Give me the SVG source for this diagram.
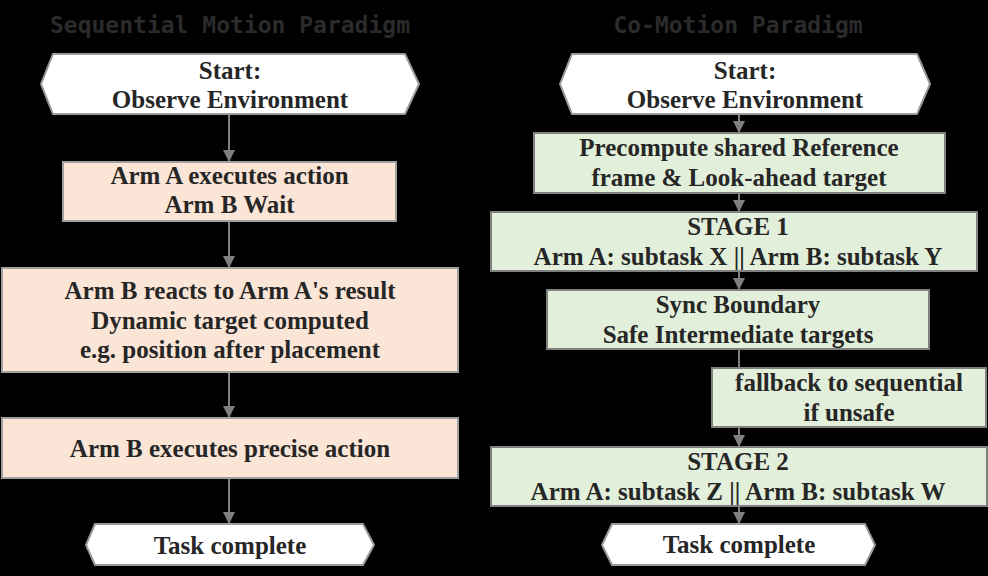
<svg xmlns="http://www.w3.org/2000/svg" width="988" height="576" viewBox="0 0 988 576">
<style>
.title{font-family:"DejaVu Sans Mono","Liberation Mono",monospace;font-weight:bold;font-size:23px;fill:#2b2b2b;text-anchor:middle}
.t{font-family:"Liberation Serif","Times New Roman",serif;font-weight:bold;font-size:25px;fill:#262626;text-anchor:middle}
.hex{fill:#ffffff;stroke:#9a9a9a;stroke-width:2}
.peach{fill:#fbe5d6;stroke:#a0a0a0;stroke-width:2}
.green{fill:#e2efda;stroke:#808080;stroke-width:2}
.conn{stroke:#7f7f7f;stroke-width:2;fill:none}
</style>
<defs>
<marker id="arr" markerWidth="12" markerHeight="12" refX="12" refY="6" orient="auto" markerUnits="userSpaceOnUse">
<path d="M0,0 L12,6 L0,12 z" fill="#7f7f7f"/>
</marker>
</defs>
<rect x="0" y="0" width="988" height="576" fill="#000000"/>
<text class="title" x="230" y="33">Sequential Motion Paradigm</text>
<text class="title" x="738" y="33">Co-Motion Paradigm</text>

<g id="connectors">
<line class="conn" x1="229" y1="115" x2="229" y2="162" marker-end="url(#arr)"/>
<line class="conn" x1="229" y1="222" x2="229" y2="268" marker-end="url(#arr)"/>
<line class="conn" x1="229" y1="373" x2="229" y2="418" marker-end="url(#arr)"/>
<line class="conn" x1="229" y1="479" x2="229" y2="524" marker-end="url(#arr)"/>
<line class="conn" x1="739" y1="115" x2="739" y2="133" marker-end="url(#arr)"/>
<line class="conn" x1="739" y1="194" x2="739" y2="212" marker-end="url(#arr)"/>
<line class="conn" x1="739" y1="272" x2="739" y2="290" marker-end="url(#arr)"/>
<line class="conn" x1="739" y1="350" x2="739" y2="368"/>
<line class="conn" x1="739" y1="428" x2="739" y2="447" marker-end="url(#arr)"/>
<line class="conn" x1="739" y1="507" x2="739" y2="524" marker-end="url(#arr)"/>
</g>

<g id="seq-start">
<polygon class="hex" points="41,84 53,54 405,54 419,84 405,114 53,114"/>
<text class="t" x="230" y="79">Start:</text>
<text class="t" x="230" y="108">Observe Environment</text>
</g>
<g id="seq-armA">
<rect class="peach" x="63" y="162" width="333" height="59"/>
<text class="t" x="229.5" y="184">Arm A executes action</text>
<text class="t" x="229.5" y="213">Arm B Wait</text>
</g>
<g id="seq-react">
<rect class="peach" x="2" y="268" width="456" height="104"/>
<text class="t" x="230" y="299">Arm B reacts to Arm A's result</text>
<text class="t" x="230" y="329">Dynamic target computed</text>
<text class="t" x="230" y="358">e.g. position after placement</text>
</g>
<g id="seq-armB">
<rect class="peach" x="2" y="418" width="456" height="60"/>
<text class="t" x="230" y="457">Arm B executes precise action</text>
</g>
<g id="seq-end">
<polygon class="hex" points="86,545 95,524 363,524 374,545 363,565 95,565"/>
<text class="t" x="230" y="554">Task complete</text>
</g>

<g id="co-start">
<polygon class="hex" points="560,84 572,54 917,54 930,84 917,114 572,114"/>
<text class="t" x="745" y="79">Start:</text>
<text class="t" x="745" y="108">Observe Environment</text>
</g>
<g id="co-precompute">
<rect class="green" x="534" y="133" width="411" height="60"/>
<text class="t" x="739" y="156">Precompute shared Reference</text>
<text class="t" x="739" y="186">frame &amp; Look-ahead target</text>
</g>
<g id="co-stage1">
<rect class="green" x="491" y="212" width="486" height="59"/>
<text class="t" x="738" y="235">STAGE 1</text>
<text class="t" x="738" y="265">Arm A: subtask X || Arm B: subtask Y</text>
</g>
<g id="co-sync">
<rect class="green" x="547" y="290" width="382" height="59"/>
<text class="t" x="738" y="313">Sync Boundary</text>
<text class="t" x="738" y="343">Safe Intermediate targets</text>
</g>
<g id="co-fallback">
<rect class="green" x="712" y="368" width="274" height="59"/>
<text class="t" x="849" y="391">fallback to sequential</text>
<text class="t" x="849" y="421">if unsafe</text>
</g>
<g id="co-stage2">
<rect class="green" x="491" y="447" width="496" height="59"/>
<text class="t" x="738" y="470">STAGE 2</text>
<text class="t" x="738" y="500">Arm A: subtask Z || Arm B: subtask W</text>
</g>
<g id="co-end">
<polygon class="hex" points="602,545 612,524 865,524 875,545 865,565 612,565"/>
<text class="t" x="739" y="553">Task complete</text>
</g>
</svg>
